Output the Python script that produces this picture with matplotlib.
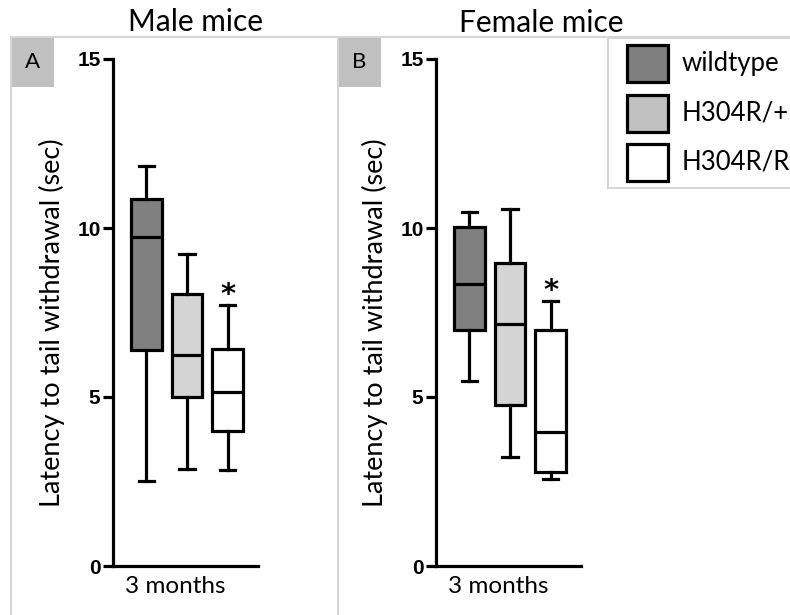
import matplotlib
matplotlib.use("Agg")
import matplotlib.pyplot as plt
from matplotlib.patches import Rectangle
from matplotlib.lines import Line2D

# Genotype groups and their fills
genotypes = ["wildtype", "H304R/+", "H304R/R"]
box_colors = ["#808080", "#d4d4d4", "#ffffff"]
legend_colors = ["#7f7f7f", "#c0c0c0", "#ffffff"]

# Tail-withdrawal latency (sec) box summaries: whisker low, Q1, median, Q3, whisker high
male_low = [2.51, 2.87, 2.84]
male_q1 = [6.39, 5.01, 4.00]
male_med = [9.74, 6.23, 5.14]
male_q3 = [10.85, 8.05, 6.41]
male_high = [11.84, 9.22, 7.71]

female_low = [5.46, 3.23, 2.57]
female_q1 = [6.98, 4.76, 2.79]
female_med = [8.33, 7.16, 3.96]
female_q3 = [10.04, 8.95, 6.98]
female_high = [10.47, 10.56, 7.83]

# groups flagged as significant (index into genotypes)
male_sig = [2]
female_sig = [2]

y_ticks = [0, 5, 10, 15]
x_group_label = "3 months"
y_label = "Latency to tail withdrawal (sec)"
titles = ["Male mice", "Female mice"]
panel_letters = ["A", "B"]

W, H = 790, 615
fig = plt.figure(figsize=(W / 100, H / 100), dpi=100)
plt.rcParams["font.family"] = ["Lato", "DejaVu Sans"]


def fx(px):
    return px / W


def fy(py):
    return 1 - py / H


LW = 2.3
frame_color = "#d6d6d6"


def draw_panel(ax, low, q1, med, q3, high, sig):
    stats = []
    for i, g in enumerate(genotypes):
        stats.append(dict(label=g, whislo=low[i], q1=q1[i], med=med[i],
                          q3=q3[i], whishi=high[i], fliers=[]))
    bp = ax.bxp(stats, positions=[1, 2, 3], widths=0.75, patch_artist=True,
                showfliers=False,
                boxprops=dict(linewidth=LW, edgecolor="black"),
                medianprops=dict(linewidth=LW, color="black"),
                whiskerprops=dict(linewidth=LW, color="black"),
                capprops=dict(linewidth=LW, color="black"))
    for patch, c in zip(bp["boxes"], box_colors):
        patch.set_facecolor(c)
    for i in sig:
        ax.text(i + 1, high[i] - 0.12, "*", ha="center", va="bottom",
                fontsize=21, fontweight="bold", family="DejaVu Sans")
    ax.set_xlim(0.18, 3.75)
    ax.set_ylim(0, 15)
    ax.set_yticks(y_ticks)
    ax.set_yticklabels([str(t) for t in y_ticks], fontsize=15,
                       fontweight="bold", family="Liberation Sans")
    ax.set_xticks([])
    ax.tick_params(axis="y", length=7, width=LW, pad=2)
    for s in ["top", "right"]:
        ax.spines[s].set_visible(False)
    for s in ["left", "bottom"]:
        ax.spines[s].set_linewidth(LW)
    ax.set_ylabel(y_label, fontsize=19.5, va="center")
    ax.text(0.43, -0.041, x_group_label, transform=ax.transAxes,
            ha="center", va="center", fontsize=17.5)


axA = fig.add_axes([fx(113), fy(566), (258 - 113) / W, (566 - 59) / H])
axB = fig.add_axes([fx(436), fy(566), (581 - 436) / W, (566 - 59) / H])
draw_panel(axA, male_low, male_q1, male_med, male_q3, male_high, male_sig)
draw_panel(axB, female_low, female_q1, female_med, female_q3, female_high, female_sig)
axA.yaxis.set_label_coords(-0.42, 0.48)
axB.yaxis.set_label_coords(-0.42, 0.48)

# panel titles
fig.text(fx(195), fy(22), titles[0], ha="center", va="center", fontsize=21.5)
fig.text(fx(541), fy(23), titles[1], ha="center", va="center", fontsize=21.5)

# panel frames
for xs, ys in [((11, 790), (37, 37)), ((11, 11), (37, 615)), ((338, 338), (37, 615))]:
    fig.add_artist(Line2D([fx(x) for x in xs], [fy(y) for y in ys],
                          color=frame_color, lw=1.5))

# panel letter tags
for (x0, x1), letter in zip([(11, 54), (338, 381)], panel_letters):
    fig.add_artist(Rectangle((fx(x0), fy(87)), (x1 - x0) / W, 50 / H,
                             facecolor="#c0c0c0", edgecolor="none"))
    fig.text(fx((x0 + x1) / 2), fy(62), letter, ha="center", va="center",
             fontsize=16)

# legend: frame box plus swatch/label rows
fig.add_artist(Rectangle((fx(608), fy(188)), 200 / W, 150 / H,
                         facecolor="white", edgecolor=frame_color, lw=1.5))
row_top = [45, 95, 144]
for top, g, c in zip(row_top, genotypes, legend_colors):
    fig.add_artist(Rectangle((fx(627), fy(top + 37)), 41 / W, 37 / H,
                             facecolor=c, edgecolor="black", lw=LW))
    fig.text(fx(682), fy(top + 18.5), g, ha="left", va="center", fontsize=18.5)

fig.savefig("out.png", dpi=100)
